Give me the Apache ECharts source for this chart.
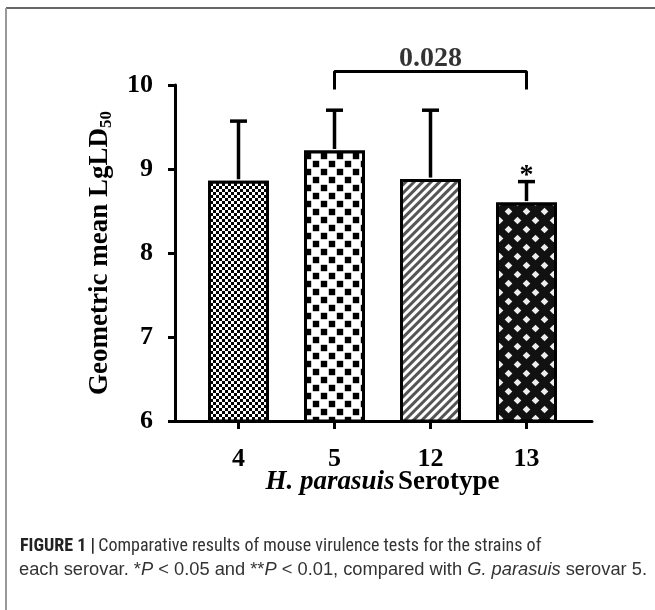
<!DOCTYPE html>
<html><head><meta charset="utf-8">
<script src="https://cdn.jsdelivr.net/npm/echarts@6/dist/echarts.min.js"></script>
<style>html,body{margin:0;padding:0;background:#fff}#c{width:655px;height:610px}</style>
</head><body><div id="c"></div>
<script>
// ---- data ----
const categories = ['4', '5', '12', '13'];
const means = [8.86, 9.22, 8.88, 8.60];
const upperErr = [0.71, 0.48, 0.82, 0.25];
const significance = ['', '', '', '*'];
const yTicks = [6, 7, 8, 9, 10];
const bracketFrom = '5';
const bracketTo = '13';
const bracketLabel = '0.028';
const bracketTop = 10.16;
const bracketBottom = 9.945;
const captionLine1 = 'Comparative results of mouse virulence tests for the strains of';

// ---- styles ----
const serif = '"Liberation Serif", "DejaVu Serif", serif';
const capFont = '"Liberation Sans Narrow", "Roboto Condensed", "Liberation Sans", sans-serif';
const capFont2 = '"Liberation Sans", Arial, sans-serif';
const decals = [
  { symbol: 'rect', symbolSize: 1, color: '#000', backgroundColor: '#fff',
    dashArrayX: [[3, 3], [0, 3, 3, 0]], dashArrayY: [3, 0] },
  { symbol: 'rect', symbolSize: 0.8, color: '#000', backgroundColor: '#fff',
    dashArrayX: [[7.5, 7.5], [0, 7.5, 7.5, 0]], dashArrayY: [7.5, 0] },
  { symbol: 'rect', symbolSize: 1, color: '#555', backgroundColor: '#fff',
    dashArrayX: [1, 0], dashArrayY: [3, 3], rotation: -Math.PI / 4 },
  { symbol: 'diamond', symbolSize: 0.85, color: '#eee', backgroundColor: '#111',
    dashArrayX: [[9, 9], [0, 9, 9, 0]], dashArrayY: [9, 0] }
];

const chart = echarts.init(document.getElementById('c'), null, { renderer: 'canvas' });
const iFrom = categories.indexOf(bracketFrom), iTo = categories.indexOf(bracketTo);
const midCat = categories[Math.round((iFrom + iTo) / 2)];

chart.setOption({
  animation: false,
  backgroundColor: '#fff',
  grid: [
    { left: 190.5, width: 384, top: 85, height: 336 },
    { left: 175, width: 417, top: 85, height: 336 }
  ],
  xAxis: [
    {
      type: 'category', gridIndex: 0, data: categories,
      axisLine: { show: false },
      axisTick: { show: true, alignWithLabel: true, length: 8, lineStyle: { color: '#000', width: 3 } },
      axisLabel: { color: '#000', fontFamily: serif, fontWeight: 'bold', fontSize: 26, margin: 25 },
      name: '{i|H. parasuis} {n|Serotype}',
      nameLocation: 'middle', nameGap: 48, nameMoveOverlap: false,
      nameTextStyle: {
        rich: {
          i: { fontFamily: serif, fontWeight: 'bold', fontStyle: 'italic', fontSize: 27, color: '#000' },
          n: { fontFamily: serif, fontWeight: 'bold', fontSize: 27, color: '#000' }
        }
      }
    },
    {
      type: 'value', gridIndex: 1, min: 0, max: 1,
      axisLine: { show: true, lineStyle: { color: '#000', width: 3 } },
      axisTick: { show: false }, axisLabel: { show: false }, splitLine: { show: false }
    }
  ],
  yAxis: [
    {
      type: 'value', gridIndex: 0, min: yTicks[0], max: yTicks[yTicks.length - 1], interval: 1,
      offset: 15.5,
      axisLine: { show: true, lineStyle: { color: '#000', width: 3 } },
      axisTick: { show: true, length: 7, lineStyle: { color: '#000', width: 3 } },
      axisLabel: { color: '#000', fontFamily: serif, fontWeight: 'bold', fontSize: 26, margin: 22 },
      splitLine: { show: false },
      name: '{n|Geometric mean LgLD}{s|50}',
      nameLocation: 'middle', nameGap: 60, nameRotate: 90,
      nameTextStyle: {
        rich: {
          n: { fontFamily: serif, fontWeight: 'bold', fontSize: 27, color: '#000' },
          s: { fontFamily: serif, fontWeight: 'bold', fontSize: 17, color: '#000', verticalAlign: 'bottom', padding: [12, 0, 0, 0] }
        }
      }
    },
    { type: 'value', gridIndex: 1, show: false, min: 0, max: 1 }
  ],
  series: [
    {
      type: 'bar', xAxisIndex: 0, yAxisIndex: 0, barWidth: 61,
      data: means.map((v, i) => ({
        value: v,
        itemStyle: { color: '#fff', borderColor: '#000', borderWidth: 3, decal: decals[i] }
      })),
      z: 2
    },
    {
      type: 'custom', xAxisIndex: 0, yAxisIndex: 0, z: 3,
      data: means.map((v, i) => [i, v, upperErr[i]]),
      renderItem: function (params, api) {
        const idx = api.value(0);
        const base = api.coord([idx, api.value(1)]);
        const top = api.coord([idx, api.value(1) + api.value(2)]);
        const children = [
          { type: 'line', shape: { x1: base[0], y1: base[1] - 1.5, x2: top[0], y2: top[1] }, style: { stroke: '#000', lineWidth: 3.5 } },
          { type: 'line', shape: { x1: top[0] - 8.5, y1: top[1], x2: top[0] + 8.5, y2: top[1] }, style: { stroke: '#000', lineWidth: 3.5 } }
        ];
        const s = significance[params.dataIndex];
        if (s) {
          children.push({ type: 'text', style: { text: s, x: top[0], y: top[1] - 6, align: 'center', verticalAlign: 'middle',
            font: 'bold 28px ' + serif, fill: '#000' } });
        }
        return { type: 'group', children: children };
      }
    },
    {
      type: 'line', xAxisIndex: 0, yAxisIndex: 0, clip: false, symbol: 'none', z: 4,
      lineStyle: { color: '#000', width: 3 },
      data: [[bracketFrom, bracketBottom], [bracketFrom, bracketTop], [bracketTo, bracketTop], [bracketTo, bracketBottom]]
    },
    {
      type: 'scatter', xAxisIndex: 0, yAxisIndex: 0, clip: false, symbolSize: 1, z: 4,
      itemStyle: { color: 'rgba(0,0,0,0)' },
      label: { show: true, position: 'top', distance: -2, formatter: bracketLabel,
        fontFamily: serif, fontWeight: 'bold', fontSize: 28, color: '#000' },
      data: [[midCat, bracketTop]]
    }
  ],
  graphic: [
    { type: 'line', shape: { x1: 6, y1: 8, x2: 655, y2: 8 }, style: { stroke: '#666', lineWidth: 2 } },
    { type: 'line', shape: { x1: 6, y1: 8, x2: 6, y2: 610 }, style: { stroke: '#999', lineWidth: 2 } },
    {
      type: 'text', left: 20, top: 537,
      style: {
        text: '{b|FIGURE 1 |} {n|' + captionLine1 + '}',
        rich: {
          b: { fontFamily: capFont, fontWeight: 'bold', fontSize: 18, fill: '#222' },
          n: { fontFamily: capFont, fontSize: 18, fill: '#333' }
        }
      }
    },
    {
      type: 'text', left: 19, top: 561,
      style: {
        text: '{n|each serovar. *}{i|P}{n| < 0.05 and **}{i|P}{n| < 0.01, compared with }{i|G. parasuis}{n| serovar 5.}',
        rich: {
          n: { fontFamily: capFont2, fontSize: 18.3, fill: '#333' },
          i: { fontFamily: capFont2, fontStyle: 'italic', fontSize: 18.3, fill: '#333' }
        }
      }
    }
  ]
});
</script></body></html>
